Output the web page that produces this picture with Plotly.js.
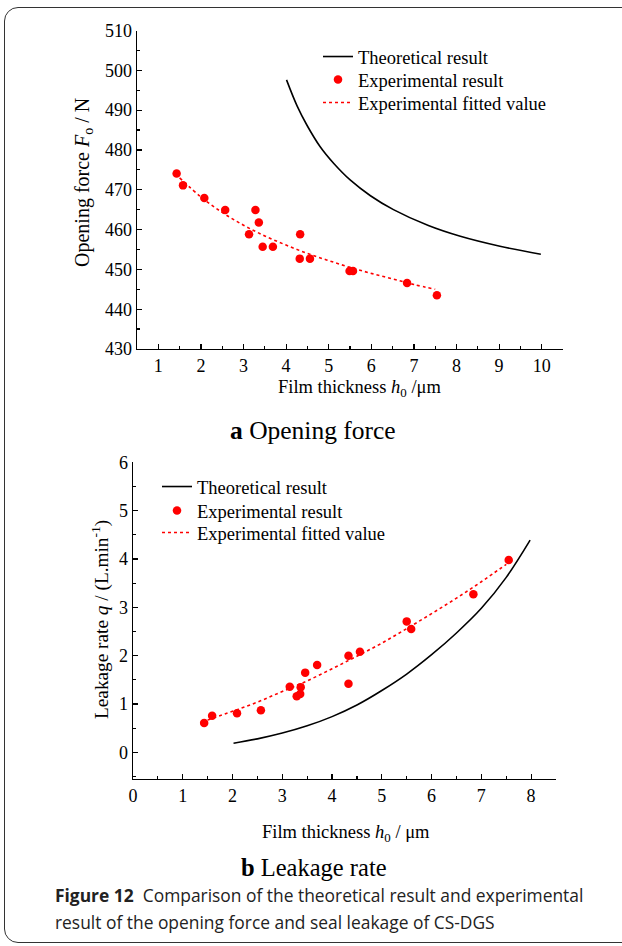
<!DOCTYPE html>
<html>
<head>
<meta charset="utf-8">
<script src="https://cdn.plot.ly/plotly-3.0.1.min.js"></script>
<style>
  html, body { margin: 0; padding: 0; background: #fff; }
  #wrap { position: relative; width: 622px; height: 946px; overflow: hidden; }
  #chart { position: absolute; left: 0; top: 0; width: 622px; height: 946px; }
  #frame { position: absolute; left: 4px; top: 7px; width: 700px; height: 934px;
           border: 1.2px solid #333; border-radius: 14px; pointer-events: none; }
</style>
</head>
<body>
<div id="wrap">
  <div id="chart"></div>
  <div id="frame"></div>
</div>
<script>
// ---------- (a) Opening force ----------
const topTheoryX = [4.01, 4.26, 4.49, 4.80, 5.12, 5.51, 5.98, 6.52, 7.34, 8.09, 9.02, 9.98];
const topTheoryY = [497.6, 491.0, 486.2, 480.8, 476.6, 472.4, 468.5, 465.0, 461.0, 458.3, 455.8, 453.8];

const topExpX = [1.43, 1.58, 2.08, 2.57, 3.28, 3.36, 3.13, 3.45, 3.69, 4.33, 4.32, 4.56, 5.49, 5.57, 6.84, 7.54];
const topExpY = [474.1, 471.1, 467.9, 464.9, 464.9, 461.8, 458.8, 455.7, 455.7, 458.8, 452.7, 452.7, 449.6, 449.6, 446.6, 443.5];

const topFitX = [1.5, 2, 2.5, 3, 3.5, 4, 4.5, 5, 5.5, 6, 6.5, 7, 7.5];
const topFitY = [473.0, 468.2, 464.3, 461.1, 458.4, 456.1, 454.0, 452.2, 450.5, 449.0, 447.6, 446.2, 445.0];

// ---------- (b) Leakage rate ----------
const botTheoryX = [2.02, 2.5, 3, 3.5, 4, 4.5, 5, 5.5, 6, 6.5, 7, 7.5, 7.98];
const botTheoryY = [0.19, 0.28, 0.40, 0.55, 0.74, 0.98, 1.28, 1.62, 2.02, 2.47, 2.98, 3.62, 4.39];

const botExpX = [1.43, 1.59, 2.09, 2.57, 3.15, 3.29, 3.36, 3.37, 3.46, 3.70, 4.33, 4.33, 4.56, 5.50, 5.59, 6.84, 7.55];
const botExpY = [0.61, 0.76, 0.81, 0.87, 1.36, 1.16, 1.21, 1.35, 1.65, 1.81, 2.00, 1.42, 2.08, 2.71, 2.55, 3.27, 3.98];

const botFitX = [1.5, 2, 2.5, 3, 3.5, 4, 4.5, 5, 5.5, 6, 6.5, 7, 7.5];
const botFitY = [0.67, 0.85, 1.04, 1.26, 1.48, 1.73, 1.99, 2.26, 2.56, 2.87, 3.19, 3.53, 3.89];

const seriesNames = ['Theoretical result', 'Experimental result', 'Experimental fitted value'];

const W = 622, H = 946;
const px = v => v / W;
const py = v => (H - v) / H;

const serif = 'Liberation Serif, serif';
const capFont = 'Open Sans';
const red = '#ff0000';

function lineTrace(x, y, xa, ya, lg) {
  return { x, y, xaxis: xa, yaxis: ya, legend: lg, name: seriesNames[0], mode: 'lines',
           line: { color: '#000', width: 1.6, shape: 'spline', smoothing: 1 }, hoverinfo: 'skip' };
}
function expTrace(x, y, xa, ya, lg) {
  return { x, y, xaxis: xa, yaxis: ya, legend: lg, name: seriesNames[1], mode: 'markers',
           marker: { color: red, size: 8.5, symbol: 'circle' }, hoverinfo: 'skip' };
}
function fitTrace(x, y, xa, ya, lg) {
  return { x, y, xaxis: xa, yaxis: ya, legend: lg, name: seriesNames[2], mode: 'lines',
           line: { color: red, width: 1.6, dash: '3px,3px', shape: 'spline' }, hoverinfo: 'skip' };
}

const data = [
  lineTrace(topTheoryX, topTheoryY, 'x', 'y', 'legend'),
  expTrace(topExpX, topExpY, 'x', 'y', 'legend2'),
  fitTrace(topFitX, topFitY, 'x', 'y', 'legend3'),
  lineTrace(botTheoryX, botTheoryY, 'x2', 'y2', 'legend4'),
  expTrace(botExpX, botExpY, 'x2', 'y2', 'legend5'),
  fitTrace(botFitX, botFitY, 'x2', 'y2', 'legend6')
];

function tf(size) { return { family: serif, size: size || 18, color: '#000' }; }

function axisBase(extra) {
  return Object.assign({
    ticks: 'inside', ticklen: 5, tickwidth: 1.2, tickcolor: '#000',
    showline: true, linewidth: 1.3, linecolor: '#000',
    showgrid: false, zeroline: false, fixedrange: true,
    tickfont: tf(18)
  }, extra);
}

function legendAt(xText, yRow) {
  return { x: px(xText - 40), y: py(yRow), xanchor: 'left', yanchor: 'middle',
    bgcolor: 'rgba(0,0,0,0)', borderwidth: 0,
    font: { family: serif, size: 18.5, color: '#000' } };
}

const layout = {
  width: W, height: H,
  margin: { l: 0, r: 0, t: 0, b: 0 },
  paper_bgcolor: '#fff', plot_bgcolor: 'rgba(0,0,0,0)',
  font: { family: serif, size: 18, color: '#000' },
  showlegend: true,
  xaxis: axisBase({ domain: [px(137), px(563)], range: [0.5, 10.5], anchor: 'y',
    tick0: 0, dtick: 1,
    minor: { ticks: 'inside', ticklen: 3, tick0: 0, dtick: 0.5, tickcolor: '#000', showgrid: false } }),
  yaxis: axisBase({ domain: [py(349), py(30.5)], range: [430, 510], anchor: 'x',
    tick0: 430, dtick: 10,
    minor: { ticks: 'inside', ticklen: 3, tick0: 430, dtick: 5, tickcolor: '#000', showgrid: false } }),
  xaxis2: axisBase({ domain: [px(133), px(556)], range: [0, 8.5], anchor: 'y2',
    tick0: 0, dtick: 1,
    minor: { ticks: 'inside', ticklen: 3, tick0: 0, dtick: 0.5, tickcolor: '#000', showgrid: false } }),
  yaxis2: axisBase({ domain: [py(779), py(462.3)], range: [-0.55, 6], anchor: 'x2',
    tick0: 0, dtick: 1,
    minor: { ticks: 'inside', ticklen: 3, tick0: 0, dtick: 0.5, tickcolor: '#000', showgrid: false } }),
  legend: legendAt(358, 57),
  legend2: legendAt(358, 80),
  legend3: legendAt(358, 103),
  legend4: legendAt(197, 487),
  legend5: legendAt(197, 511),
  legend6: legendAt(197, 533),
  annotations: [
    { text: 'Film thickness <i>h</i><sub>0</sub> /μm', xref: 'paper', yref: 'paper',
      x: px(359), y: py(388), xanchor: 'center', yanchor: 'middle', showarrow: false, font: tf(18.5) },
    { text: 'Opening force <i>F</i><sub>o</sub> / N', xref: 'paper', yref: 'paper',
      x: px(84), y: py(183), xanchor: 'center', yanchor: 'middle', textangle: -90, showarrow: false, font: tf(20) },
    { text: '<b>a</b> Opening force', xref: 'paper', yref: 'paper',
      x: px(313), y: py(430), xanchor: 'center', yanchor: 'middle', showarrow: false,
      font: tf(25.5) },
    { text: 'Film thickness <i>h</i><sub>0</sub> / μm', xref: 'paper', yref: 'paper',
      x: px(346), y: py(833), xanchor: 'center', yanchor: 'middle', showarrow: false, font: tf(18.5) },
    { text: 'Leakage rate <i>q</i> / (L.min<sup>-1</sup>)', xref: 'paper', yref: 'paper',
      x: px(100), y: py(620), xanchor: 'center', yanchor: 'middle', textangle: -90, showarrow: false, font: tf(19.3) },
    { text: '<b>b</b> Leakage rate', xref: 'paper', yref: 'paper',
      x: px(314), y: py(867), xanchor: 'center', yanchor: 'middle', showarrow: false,
      font: tf(24.5) },
    { text: '<b>Figure 12</b>  Comparison of the theoretical result and experimental', xref: 'paper', yref: 'paper',
      x: px(53), y: py(895), xanchor: 'left', yanchor: 'middle', showarrow: false,
      font: { family: capFont, size: 17.4, color: '#222' } },
    { text: 'result of the opening force and seal leakage of CS-DGS', xref: 'paper', yref: 'paper',
      x: px(53), y: py(922), xanchor: 'left', yanchor: 'middle', showarrow: false,
      font: { family: capFont, size: 17.4, color: '#222' } }
  ]
};

Plotly.newPlot('chart', data, layout, { staticPlot: true, displayModeBar: false });
</script>
</body>
</html>
